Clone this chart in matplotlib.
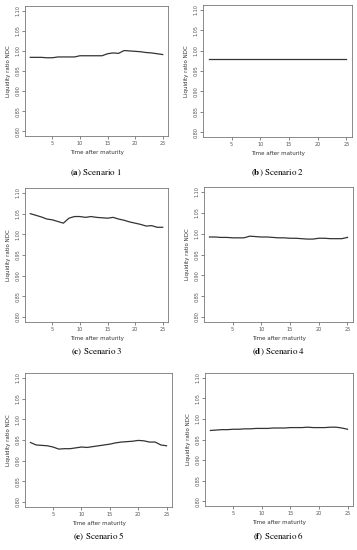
import matplotlib.pyplot as plt

# Time after maturity (years)
t = list(range(1, 26))

# Liquidity ratio NDC
s1 = [0.984, 0.984, 0.984, 0.983, 0.983, 0.985, 0.985, 0.985, 0.985, 0.988,
      0.988, 0.988, 0.988, 0.988, 0.993, 0.995, 0.994, 1.001, 1.000, 0.999,
      0.998, 0.996, 0.995, 0.993, 0.991]
s2 = [0.979] * 25
s3 = [1.050, 1.046, 1.042, 1.037, 1.035, 1.031, 1.027, 1.039, 1.043, 1.043,
      1.041, 1.043, 1.041, 1.040, 1.039, 1.041, 1.037, 1.034, 1.030, 1.027,
      1.024, 1.020, 1.021, 1.017, 1.017]
s4 = [0.992, 0.992, 0.991, 0.991, 0.990, 0.990, 0.990, 0.994, 0.993, 0.992,
      0.992, 0.991, 0.990, 0.990, 0.989, 0.989, 0.988, 0.987, 0.987, 0.989,
      0.989, 0.988, 0.988, 0.988, 0.991]
s5 = [0.944, 0.938, 0.937, 0.936, 0.933, 0.928, 0.929, 0.929, 0.931, 0.933,
      0.932, 0.934, 0.936, 0.938, 0.940, 0.943, 0.945, 0.946, 0.947, 0.949,
      0.948, 0.945, 0.945, 0.938, 0.936]
s6 = [0.972, 0.973, 0.974, 0.974, 0.975, 0.975, 0.976, 0.976, 0.977, 0.977,
      0.977, 0.978, 0.978, 0.978, 0.979, 0.979, 0.979, 0.980, 0.979, 0.979,
      0.979, 0.980, 0.980, 0.978, 0.975]

series = [s1, s2, s3, s4, s5, s6]
letters = ['a', 'b', 'c', 'd', 'e', 'f']
yticks = [0.80, 0.85, 0.90, 0.95, 1.00, 1.05, 1.10]
xticks = [5, 10, 15, 20, 25]

plt.rcParams['mathtext.fontset'] = 'stix'

W, H = 357, 550
fig = plt.figure(figsize=(W / 100, H / 100), dpi=100)

# panel boxes in pixels: left, top, right, bottom ; caption y
boxes = [(25, 6, 168, 136, 173), (203, 5, 352, 137, 173),
         (25, 188, 168, 322, 352), (204, 187, 353, 322, 352),
         (25, 373, 172, 507, 537), (205, 373, 353, 506, 537)]

for s, l, (x0, y0, x1, y1, cy) in zip(series, letters, boxes):
    ax = fig.add_axes([x0 / W, 1 - y1 / H, (x1 - x0) / W, (y1 - y0) / H])
    ax.plot(t, s, color='#333333', lw=0.9)
    ax.set_xlim(0.04, 25.96)
    ax.set_ylim(0.788, 1.112)
    ax.set_xticks(xticks)
    ax.set_yticks(yticks)
    ax.set_yticklabels(['%.2f' % v for v in yticks], rotation=90, va='center')
    ax.tick_params(labelsize=3.5, length=2, width=0.5, colors='#555555', pad=1.5)
    for sp in ax.spines.values():
        sp.set_linewidth(0.6)
        sp.set_color('#777777')
    ax.set_xlabel('Time after maturity', fontsize=4, labelpad=3, color='#333333')
    ax.set_ylabel('Liquidity ratio NDC', fontsize=4, labelpad=3, color='#333333')
    fig.text((x0 + x1) / 2 / W, 1 - cy / H,
             r'($\mathbf{%s}$) Scenario %d' % (l, letters.index(l) + 1),
             ha='center', va='center', fontsize=6.5, family='STIXGeneral')

plt.savefig('out.png', dpi=100)
